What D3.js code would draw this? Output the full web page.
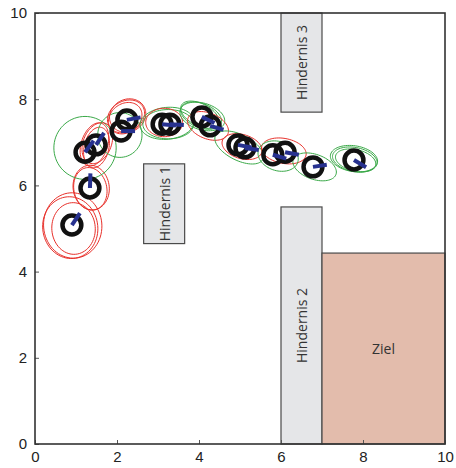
<!DOCTYPE html>
<html>
<head>
<meta charset="utf-8">
<script src="https://cdn.jsdelivr.net/npm/d3@7/dist/d3.min.js"></script>
<style>
  html, body { margin: 0; padding: 0; background: #fff; }
  svg { display: block; }
</style>
</head>
<body>
<svg id="chart" width="456" height="468"></svg>
<script>
// Axis ticks
const xTicks = [0, 2, 4, 6, 8, 10];
const yTicks = [0, 2, 4, 6, 8, 10];

// Rectangular regions: obstacles and goal area (x0, x1, y0, y1)
const regionNames = ["Hindernis 1", "Hindernis 2", "Hindernis 3", "Ziel"];
const regionX0 = [2.65, 6.0, 6.0, 7.0];
const regionX1 = [3.65, 7.0, 7.0, 10.0];
const regionY0 = [4.65, 0.0, 7.7, 0.0];
const regionY1 = [6.5, 5.5, 10.0, 4.43];
const regionKind = ["obstacle", "obstacle", "obstacle", "goal"];

// Estimated robot poses (position and heading in degrees)
const poseX = [0.90, 1.34, 1.22, 1.49, 2.10, 2.24, 3.10, 3.29, 4.07, 4.27, 4.95, 5.12, 5.80, 6.10, 6.78, 7.78];
const poseY = [5.08, 5.94, 6.77, 6.94, 7.26, 7.52, 7.42, 7.42, 7.59, 7.38, 6.94, 6.87, 6.71, 6.77, 6.43, 6.59];
const poseHeading = [55, 88, 52, 55, 0, 10, -5, -3, -25, -15, -10, -8, -15, -10, 8, -30];

// Uncertainty ellipses: centre, semi-axes, orientation (deg), filter step
const ellCx = [0.92, 0.94, 0.86, 1.37, 1.35, 1.22, 1.45, 1.50, 1.52, 2.07, 2.22, 2.20, 2.26, 3.22, 3.25, 3.15, 4.05, 4.08, 4.02, 4.22, 4.98, 5.05, 6.07, 5.93, 6.82, 7.80, 7.82, 7.78];
const ellCy = [5.07, 5.00, 5.02, 5.95, 5.92, 6.87, 6.95, 6.88, 6.98, 7.17, 7.60, 7.56, 7.62, 7.44, 7.42, 7.46, 7.62, 7.60, 7.64, 7.38, 6.88, 6.90, 6.80, 6.68, 6.43, 6.60, 6.58, 6.62];
const ellA  = [0.71, 0.53, 0.67, 0.44, 0.40, 0.76, 0.52, 0.48, 0.50, 0.54, 0.47, 0.43, 0.45, 0.66, 0.62, 0.45, 0.52, 0.56, 0.50, 0.52, 0.64, 0.50, 0.55, 0.50, 0.55, 0.55, 0.50, 0.58];
const ellB  = [0.76, 0.60, 0.72, 0.52, 0.50, 0.73, 0.32, 0.30, 0.34, 0.52, 0.36, 0.34, 0.38, 0.37, 0.34, 0.33, 0.28, 0.31, 0.26, 0.30, 0.30, 0.28, 0.29, 0.34, 0.29, 0.28, 0.25, 0.30];
const ellAngle = [10, 5, 15, 10, 15, 0, 70, 75, 65, 0, 25, 30, 20, 5, 0, 0, -20, -15, -25, -20, -25, -15, -10, -15, -18, -10, -12, -8];
const ellStep = ["pred", "pred", "pred", "pred", "pred", "upd", "pred", "pred", "pred", "upd", "pred", "pred", "pred", "upd", "upd", "pred", "upd", "upd", "upd", "pred", "upd", "pred", "pred", "upd", "upd", "upd", "upd", "upd"];

const robotRadius = 0.23;
const headingLength = 0.34;

const stepColor = { pred: "#e8302a", upd: "#3aa948" };
const regionFill = { obstacle: "#e5e6e8", goal: "#e3bcac" };

const svg = d3.select("#chart");
const x = d3.scaleLinear().domain([0, 10]).range([35, 445]);
const y = d3.scaleLinear().domain([0, 10]).range([444, 13]);

// Regions
const regions = regionNames.map((name, i) => ({
  name, kind: regionKind[i],
  x0: regionX0[i], x1: regionX1[i], y0: regionY0[i], y1: regionY1[i]
}));

const rg = svg.append("g");
rg.selectAll("rect").data(regions).join("rect")
  .attr("x", d => x(d.x0))
  .attr("y", d => y(d.y1))
  .attr("width", d => x(d.x1) - x(d.x0))
  .attr("height", d => y(d.y0) - y(d.y1))
  .attr("fill", d => regionFill[d.kind])
  .attr("stroke", "#4a4a4a")
  .attr("stroke-width", 1.2);

rg.selectAll("text").data(regions).join("text")
  .attr("transform", d => {
    const cx = x((d.x0 + d.x1) / 2), cy = y((d.y0 + d.y1) / 2);
    return d.kind === "goal" ? `translate(${cx},${cy})` : `translate(${cx},${cy}) rotate(-90)`;
  })
  .attr("text-anchor", "middle")
  .attr("dominant-baseline", "central")
  .attr("font-family", "'Open Sans', sans-serif")
  .attr("font-size", 14)
  .attr("fill", "#333")
  .text(d => d.name);

// Uncertainty ellipses, traced in data space and mapped through the scales
const ellipses = ellCx.map((cx, i) => ({
  cx, cy: ellCy[i], a: ellA[i], b: ellB[i], ang: ellAngle[i] * Math.PI / 180, step: ellStep[i]
}));
const ellLine = d3.line().x(p => x(p[0])).y(p => y(p[1])).curve(d3.curveLinearClosed);
const tSteps = d3.range(0, 72).map(k => k / 72 * 2 * Math.PI);

svg.append("g").selectAll("path").data(ellipses).join("path")
  .attr("d", e => ellLine(tSteps.map(t => {
    const u = e.a * Math.cos(t), v = e.b * Math.sin(t);
    return [e.cx + u * Math.cos(e.ang) - v * Math.sin(e.ang),
            e.cy + u * Math.sin(e.ang) + v * Math.cos(e.ang)];
  })))
  .attr("fill", "none")
  .attr("stroke", e => stepColor[e.step])
  .attr("stroke-width", 1);

// Robot poses
const poses = poseX.map((px, i) => ({ x: px, y: poseY[i], h: poseHeading[i] * Math.PI / 180 }));
const pg = svg.append("g");

pg.selectAll("circle").data(poses).join("circle")
  .attr("cx", d => x(d.x))
  .attr("cy", d => y(d.y))
  .attr("r", d => x(robotRadius) - x(0))
  .attr("fill", "none")
  .attr("stroke", "#111")
  .attr("stroke-width", 4.5);

pg.selectAll("line").data(poses).join("line")
  .attr("x1", d => x(d.x))
  .attr("y1", d => y(d.y))
  .attr("x2", d => x(d.x + headingLength * Math.cos(d.h)))
  .attr("y2", d => y(d.y + headingLength * Math.sin(d.h)))
  .attr("stroke", "#27318f")
  .attr("stroke-width", 4);

// Axes
const xAxis = svg.append("g")
  .attr("transform", `translate(0,${y(0)})`)
  .call(d3.axisBottom(x).tickValues(xTicks).tickSize(-4).tickPadding(10).tickFormat(d3.format("d")));
const yAxis = svg.append("g")
  .attr("transform", `translate(${x(0)},0)`)
  .call(d3.axisLeft(y).tickValues(yTicks).tickSize(-4).tickPadding(8).tickFormat(d3.format("d")));

[xAxis, yAxis].forEach(g => {
  g.select(".domain").remove();
  g.selectAll(".tick line").attr("stroke", "#555").attr("stroke-width", 1);
  g.selectAll(".tick text")
    .attr("font-family", "'Liberation Sans', Arial, sans-serif")
    .attr("font-size", 15)
    .attr("fill", "#222");
});
xAxis.selectAll(".tick text").attr("dy", "0.55em");

// Frame
svg.append("rect")
  .attr("x", x(0)).attr("y", y(10))
  .attr("width", x(10) - x(0)).attr("height", y(0) - y(10))
  .attr("fill", "none")
  .attr("stroke", "#333")
  .attr("stroke-width", 1.6);
</script>
</body>
</html>
